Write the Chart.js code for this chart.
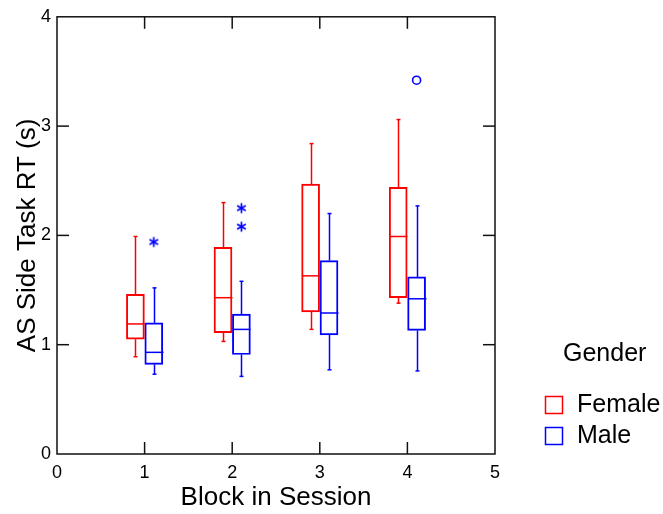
<!DOCTYPE html>
<html>
<head>
<meta charset="utf-8">
<script src="https://cdn.jsdelivr.net/npm/chart.js@4.4.0/dist/chart.umd.min.js"></script>
<style>
  html, body { margin: 0; padding: 0; background: #fff; }
  #wrap { width: 663px; height: 514px; }
</style>
</head>
<body>
<div id="wrap"><canvas id="chart"></canvas></div>
<script>
const blocks = [1, 2, 3, 4]
const xTicks = [0, 1, 2, 3, 4, 5]
const yTicks = [0, 1, 2, 3, 4]

const femaleMin = [0.89, 1.03, 1.14, 1.38]
const femaleQ1 = [1.05, 1.11, 1.30, 1.43]
const femaleMedian = [1.19, 1.43, 1.63, 1.99]
const femaleQ3 = [1.46, 1.89, 2.47, 2.44]
const femaleMax = [1.99, 2.30, 2.84, 3.06]

const maleMin = [0.73, 0.71, 0.77, 0.76]
const maleQ1 = [0.82, 0.91, 1.09, 1.13]
const maleMedian = [0.93, 1.14, 1.29, 1.42]
const maleQ3 = [1.20, 1.28, 1.77, 1.62]
const maleMax = [1.52, 1.58, 2.20, 2.27]

// far outliers (asterisks) and outliers (circles), male only
const maleStarBlocks = [1, 2, 2]
const maleStarValues = [1.94, 2.25, 2.08]
const maleCircleBlocks = [4]
const maleCircleValues = [3.42]

const RED = '#ff0000'
const BLUE = '#0000ff'
const FONT = "'Liberation Sans', Arial, sans-serif"
const OFFSET = 0.105
const BOX_W = 18

function makeAsterisk (color) {
  const c = document.createElement('canvas')
  c.width = 13
  c.height = 13
  const g = c.getContext('2d')
  g.strokeStyle = color
  g.lineWidth = 1.7
  for (let k = 0; k < 3; k++) {
    const a = Math.PI / 2 + k * Math.PI / 3
    g.beginPath()
    g.moveTo(6.5 + 5 * Math.cos(a), 6.5 - 5 * Math.sin(a))
    g.lineTo(6.5 - 5 * Math.cos(a), 6.5 + 5 * Math.sin(a))
    g.stroke()
  }
  return c
}

const groups = [
  { label: 'Female', color: RED, off: -OFFSET, min: femaleMin, q1: femaleQ1, med: femaleMedian, q3: femaleQ3, max: femaleMax },
  { label: 'Male', color: BLUE, off: OFFSET, min: maleMin, q1: maleQ1, med: maleMedian, q3: maleQ3, max: maleMax }
]

function seg (ctx, x1, y1, x2, y2) {
  ctx.beginPath()
  ctx.moveTo(x1, y1)
  ctx.lineTo(x2, y2)
  ctx.stroke()
}

const boxPlugin = {
  id: 'boxDetails',
  beforeDatasetsDraw (chart) {
    const { ctx, scales: { x, y } } = chart
    ctx.save()
    ctx.lineWidth = 1.5
    groups.forEach(g => {
      ctx.strokeStyle = g.color
      blocks.forEach((b, i) => {
        const cx = Math.round(x.getPixelForValue(b + g.off)) + 0.5
        const half = BOX_W / 2
        const yMed = y.getPixelForValue(g.med[i])
        const yMin = y.getPixelForValue(g.min[i])
        const yMax = y.getPixelForValue(g.max[i])
        const yQ1 = y.getPixelForValue(g.q1[i])
        const yQ3 = y.getPixelForValue(g.q3[i])
        seg(ctx, cx - half, yMed, cx + half, yMed)
        seg(ctx, cx, yQ3, cx, yMax)
        seg(ctx, cx, yQ1, cx, yMin)
        seg(ctx, cx - 2, yMax, cx + 2, yMax)
        seg(ctx, cx - 2, yMin, cx + 2, yMin)
      })
    })
    ctx.restore()
  },
  afterDraw (chart) {
    const { ctx, chartArea: a, scales: { x, y } } = chart
    ctx.save()
    ctx.strokeStyle = '#111'
    ctx.lineWidth = 1.5
    ctx.strokeRect(a.left, a.top, a.right - a.left, a.bottom - a.top)
    const tl = 12
    yTicks.slice(1, -1).forEach(v => {
      const py = y.getPixelForValue(v)
      seg(ctx, a.left, py, a.left + tl, py)
      seg(ctx, a.right, py, a.right - tl, py)
    })
    xTicks.slice(1, -1).forEach(v => {
      const px = x.getPixelForValue(v)
      seg(ctx, px, a.top, px, a.top + tl)
      seg(ctx, px, a.bottom, px, a.bottom - tl)
    })

    // legend
    ctx.fillStyle = '#000'
    ctx.font = '25px ' + FONT
    ctx.textBaseline = 'middle'
    ctx.textAlign = 'left'
    ctx.fillText('Gender', 563, 354)
    groups.forEach((g, i) => {
      const top = 396 + i * 31
      ctx.strokeStyle = g.color
      ctx.lineWidth = 1.5
      ctx.strokeRect(545.5, top + 0.5, 17, 17)
      ctx.fillText(g.label, 577, top + 9)
    })
    ctx.restore()
  }
}

new Chart(document.getElementById('chart'), {
  data: {
    datasets: [
      ...groups.map(g => ({
        type: 'bar',
        label: g.label,
        data: blocks.map((b, i) => ({ x: b + g.off, y: [g.q1[i], g.q3[i]] })),
        backgroundColor: 'rgba(0,0,0,0)',
        borderColor: g.color,
        borderWidth: 1.3,
        borderSkipped: false,
        barThickness: BOX_W,
        grouped: false
      })),
      {
        type: 'scatter',
        label: 'far outliers',
        data: maleStarBlocks.map((b, i) => ({ x: b + OFFSET, y: maleStarValues[i] })),
        pointStyle: makeAsterisk(BLUE),
        pointRadius: 6
      },
      {
        type: 'scatter',
        label: 'outliers',
        data: maleCircleBlocks.map((b, i) => ({ x: b + OFFSET, y: maleCircleValues[i] })),
        pointStyle: 'circle',
        pointRadius: 4,
        borderColor: BLUE,
        backgroundColor: '#fff',
        borderWidth: 1.6
      }
    ]
  },
  options: {
    responsive: true,
    maintainAspectRatio: false,
    animation: false,
    layout: { padding: { top: 16, right: 168, bottom: 0, left: 0 } },
    plugins: {
      legend: { display: false },
      tooltip: { enabled: false }
    },
    scales: {
      x: {
        type: 'linear',
        min: 0,
        max: 5,
        offset: false,
        afterBuildTicks: s => { s.ticks = xTicks.map(v => ({ value: v })) },
        afterFit: s => { s.height = 60 },
        ticks: { color: '#000', font: { family: FONT, size: 18 }, padding: 8, maxRotation: 0 },
        grid: { display: false, drawTicks: false },
        border: { display: false },
        title: { display: true, text: 'Block in Session', color: '#000', font: { family: FONT, size: 26 }, padding: { top: 0, bottom: 1 } }
      },
      y: {
        type: 'linear',
        min: 0,
        max: 4,
        afterBuildTicks: s => { s.ticks = yTicks.map(v => ({ value: v })) },
        afterFit: s => { s.width = 57 },
        ticks: { color: '#000', font: { family: FONT, size: 18 }, padding: 6 },
        grid: { display: false, drawTicks: false },
        border: { display: false },
        title: { display: true, text: 'AS Side Task RT (s)', color: '#000', font: { family: FONT, size: 26 }, padding: { top: 12, bottom: 0 } }
      }
    }
  },
  plugins: [boxPlugin]
})
</script>
</body>
</html>
